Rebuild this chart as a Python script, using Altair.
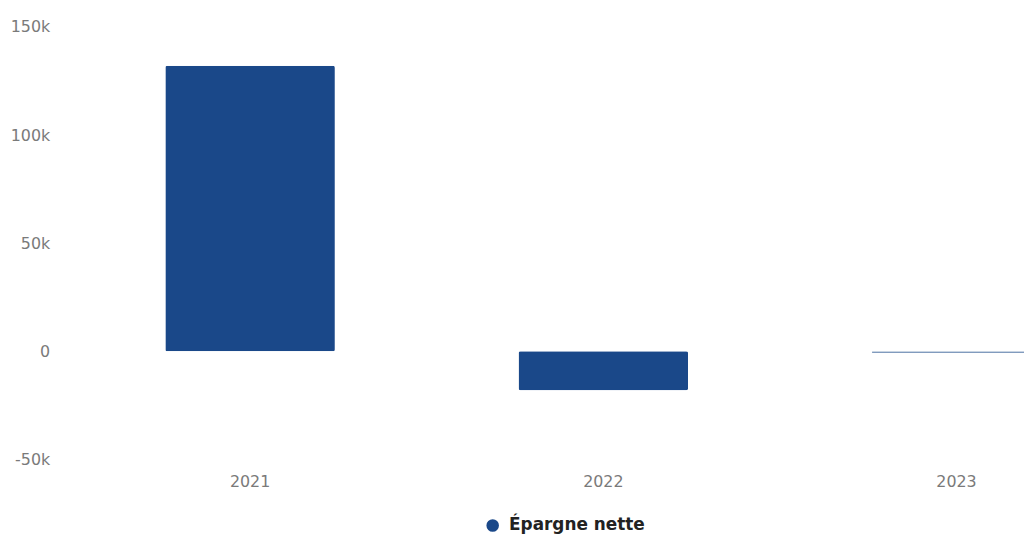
import altair as alt
import pandas as pd

years = ["2021", "2022", "2023"]
values = [132000, -18000, -800]
series = ["Épargne nette", "Épargne nette", "Épargne nette"]

df = pd.DataFrame({"Année": years, "Valeur": values, "Série": series})

bars = alt.Chart(df).mark_bar(cornerRadius=2).encode(
    x=alt.X("Année:N", title=None,
            scale=alt.Scale(range=[1, 1069], paddingInner=0.52, paddingOuter=0.26),
            axis=alt.Axis(labelAngle=0, labelColor="#7a7a7a", labelFontSize=16,
                          labelFont="DejaVu Sans", labelPadding=14, ticks=False,
                          domain=False, grid=False)),
    y=alt.Y("Valeur:Q", title=None,
            scale=alt.Scale(domain=[-50000, 150000], nice=False),
            axis=alt.Axis(values=[-50000, 0, 50000, 100000, 150000],
                          labelExpr="datum.value == 0 ? '0' : (datum.value/1000) + 'k'",
                          labelColor="#7a7a7a", labelFontSize=16, labelFont="DejaVu Sans",
                          labelPadding=23, ticks=False, domain=False, grid=False)),
    color=alt.Color("Série:N", title=None,
                    scale=alt.Scale(range=["#1a4889"]),
                    legend=alt.Legend(orient="none", legendX=415, legendY=494,
                                      symbolType="circle", symbolSize=160,
                                      symbolStrokeWidth=0, labelOffset=8,
                                      labelFont="DejaVu Sans", labelFontSize=17,
                                      labelFontWeight="bold", labelColor="#222222",
                                      direction="horizontal")),
    opacity=alt.condition("datum['Année'] == '2023'", alt.value(0.55), alt.value(1)),
)

chart = bars.properties(
    width=959, height=436,
    autosize=alt.AutoSizeParams(type="none"),
    padding={"left": 65, "top": 17, "right": 0, "bottom": 74},
).configure(background="white").configure_view(stroke=None, strokeWidth=0)

chart.save("out.html", embed_options={"renderer": "svg", "actions": False})
